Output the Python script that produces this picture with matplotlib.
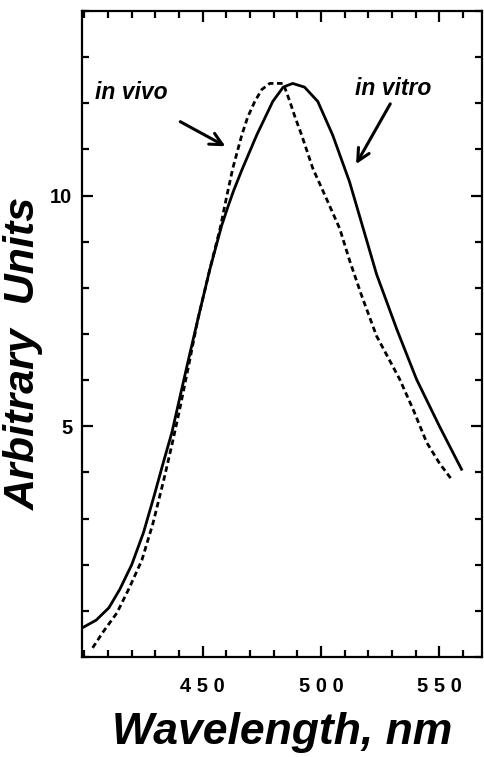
import matplotlib
matplotlib.use("Agg")
import matplotlib.pyplot as plt
from matplotlib.ticker import MultipleLocator, FixedLocator, FixedFormatter

plt.rcParams['font.family'] = ['Liberation Sans', 'DejaVu Sans']

# in vitro (solid) spectrum
wl_vitro = [399, 405, 410.4, 415, 420, 425, 429.4, 433, 437, 440, 444, 448,
            453, 458, 460.6, 463, 466.5, 472.8, 479.6, 484, 488, 493, 498.6,
            504.9, 512, 518, 523.4, 532, 540.3, 550, 559.3]
vitro = [0.63, 0.8, 1.07, 1.47, 2.0, 2.7, 3.48, 4.15, 4.87, 5.55, 6.45, 7.33,
         8.4, 9.35, 9.75, 10.1, 10.55, 11.31, 12.04, 12.35, 12.43, 12.35, 12.04,
         11.31, 10.3, 9.25, 8.3, 7.1, 6.02, 5.0, 4.07]

# in vivo (dashed) spectrum
wl_vivo = [403.5, 408, 413.8, 419, 424.3, 429, 433.6, 437, 440, 444, 448,
           453, 457.4, 460, 462.7, 466.5, 469, 472, 475, 478.3, 484, 486.8,
           489, 491.8, 496.5, 502.8, 507.9, 512, 517, 523.4, 533.2, 539, 544.6,
           550, 555.1]
vivo = [0.2, 0.55, 0.96, 1.5, 2.1, 2.9, 3.85, 4.6, 5.3, 6.3, 7.33,
        8.4, 9.3, 9.95, 10.59, 11.31, 11.7, 12.04, 12.3, 12.43, 12.43, 12.04,
        11.7, 11.31, 10.59, 9.87, 9.28, 8.6, 7.85, 6.96, 6.02, 5.35, 4.65,
        4.2, 3.85]

x_major = [450, 500, 550]
x_labels = ['4 5 0', '5 0 0', '5 5 0']
y_major = [5, 10]
y_labels = ['5', '10']

fig = plt.figure(figsize=(4.85, 7.57), dpi=100)
ax = fig.add_axes([0.169, 0.132, 0.825, 0.8535])

ax.plot(wl_vitro, vitro, color='black', lw=2.0, solid_joinstyle='round')
ax.plot(wl_vivo, vivo, color='black', lw=2.0, linestyle=(0, (2.0, 1.3)))

ax.set_xlim(399, 568)
ax.set_ylim(0, 14)

ax.xaxis.set_major_locator(FixedLocator(x_major))
ax.xaxis.set_major_formatter(FixedFormatter(x_labels))
ax.xaxis.set_minor_locator(MultipleLocator(10))
ax.yaxis.set_major_locator(FixedLocator(y_major))
ax.yaxis.set_major_formatter(FixedFormatter(y_labels))
ax.yaxis.set_minor_locator(MultipleLocator(1))

ax.tick_params(which='both', direction='in', top=True, right=True, width=1.6)
ax.tick_params(which='major', length=8)
ax.tick_params(which='minor', length=5)
ax.tick_params(axis='x', which='major', pad=14, labelsize=14.5)
ax.tick_params(axis='y', which='major', pad=7, labelsize=14.5)
for lab in ax.get_xticklabels() + ax.get_yticklabels():
    lab.set_fontweight('bold')

for sp in ax.spines.values():
    sp.set_linewidth(1.6)

ax.set_xlabel('Wavelength, nm', fontsize=32, fontweight='bold', style='italic',
              labelpad=12)
ax.set_ylabel('Arbitrary  Units', fontsize=31, fontweight='bold', style='italic')
ax.yaxis.set_label_coords(-0.095, 0.47)

ax.text(404.5, 12.1, 'in vivo', fontsize=16.5, fontweight='bold', style='italic')
ax.text(514.2, 12.17, 'in vitro', fontsize=16.5, fontweight='bold', style='italic')

ax.annotate('', xy=(460.6, 11.04), xytext=(439.5, 11.63),
            arrowprops=dict(arrowstyle='->', lw=2.2, mutation_scale=22,
                            color='black'))
ax.annotate('', xy=(514.2, 10.63), xytext=(529.8, 12.04),
            arrowprops=dict(arrowstyle='->', lw=2.2, mutation_scale=22,
                            color='black'))

fig.savefig('out.png', dpi=100)
